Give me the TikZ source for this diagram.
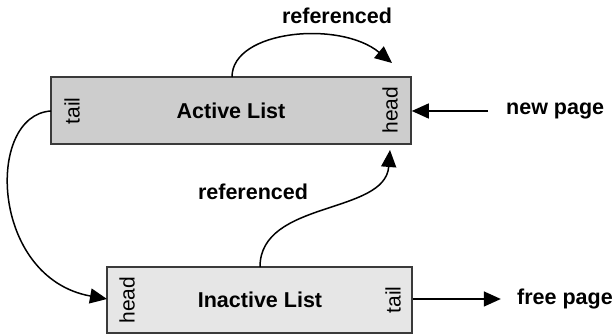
\documentclass[tikz,border=0pt]{standalone}
\usepackage{fontspec}
\setmainfont{Liberation Sans}
\usetikzlibrary{arrows.meta}
\definecolor{activegray}{HTML}{CDCDCD}
\definecolor{inactivegray}{HTML}{E6E6E6}
\definecolor{boxline}{HTML}{3A3A3A}
\tikzset{
  listbox/.style={draw=boxline, line width=1.6pt, inner sep=0pt,
    font=\bfseries\fontsize{21.5}{24}\selectfont},
  endlabel/.style={rotate=90, inner sep=0pt, font=\fontsize{21}{24}\selectfont},
  biglabel/.style={inner sep=0pt, font=\bfseries\fontsize{21.5}{24}\selectfont},
  conn/.style={line width=1.5pt, -{Triangle[length=17pt,width=15pt]}}
}
\begin{document}
\begin{tikzpicture}[x=1pt,y=-1pt]
\useasboundingbox (0,0) rectangle (616,336);
% boxes
\node[listbox, fill=activegray, minimum width=360pt, minimum height=67pt] (active) at (231,110.5) {};
\node[biglabel] (activetxt) at (231,111) {Active List};
\node[endlabel] (atail) at (72,111) {tail};
\node[endlabel] (ahead) at (390,110) {head};
\node[listbox, fill=inactivegray, minimum width=305pt, minimum height=66pt] (inactive) at (259.5,300) {};
\node[biglabel] (inactivetxt) at (260,300) {Inactive List};
\node[endlabel] (ihead) at (127,300) {head};
\node[endlabel] (itail) at (393,300) {tail};
% labels
\node[biglabel] (ref1) at (337,16) {referenced};
\node[biglabel] (ref2) at (253,192) {referenced};
\node[biglabel, anchor=west] (newpage) at (506,111) {new page};
\node[biglabel, anchor=west] (freepage) at (517,299) {free page};
% coordinates
\coordinate (topStart) at (232,77);
\coordinate (topTip) at (392,63);
\coordinate (botStart) at (260,267);
\coordinate (botTip) at (390,150);
\coordinate (npStart) at (488,111);
\coordinate (tailStart) at (51,111);
\coordinate (headTip) at (107,299);
% connectors
\draw[conn] (topStart) .. controls (232,30) and (340,20) .. (topTip);
\draw[conn] (botStart) .. controls (260,200) and (385,215) .. (botTip);
\draw[conn] (npStart) -- (npStart -| active.east);
\draw[conn] (inactive.east |- freepage.west) -- ++(88,0) coordinate (fpTip);
\draw[conn] (tailStart) .. controls (-15,115) and (-10,278) .. (headTip);
\end{tikzpicture}
\end{document}
